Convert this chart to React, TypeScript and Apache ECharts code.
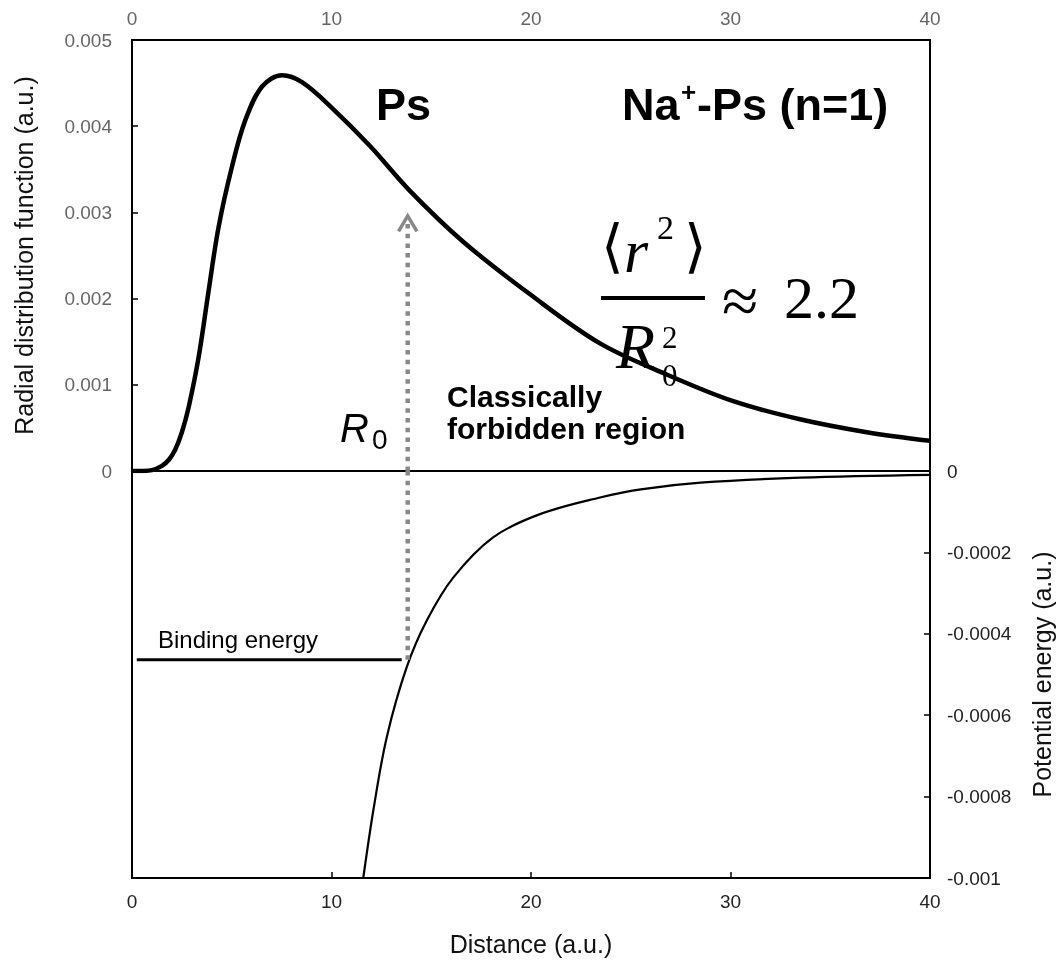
import { useEffect, useRef } from "react";
import * as echarts from "echarts";

// Radial distribution function (top panel)
const distance = [0, 0.5, 1.0, 1.5, 1.85, 2.17, 2.5, 2.84, 3.34, 3.84, 4.34, 5.01, 5.68, 6.52, 7.52, 8.52, 10.03, 11.93, 13.93, 16.6, 19.95, 23.46, 26.8, 30.14, 33.48, 36.83, 40];
const rdf = [0, 0.000001, 0.00001, 0.00006, 0.00013, 0.00025, 0.00045, 0.00074, 0.00132, 0.00209, 0.00283, 0.00353, 0.00407, 0.00446, 0.00459, 0.00451, 0.00421, 0.00377, 0.00325, 0.00266, 0.00205, 0.00148, 0.00112, 0.00081, 0.0006, 0.00045, 0.00035];

// Potential energy (bottom panel)
const potDistance = [11.4, 11.6, 12.1, 12.77, 13.77, 14.77, 16.1, 18.1, 20.45, 23.46, 25.5, 28.5, 33.5, 40];
const potential = [-0.00107, -0.000997, -0.000833, -0.000654, -0.000482, -0.000368, -0.000262, -0.000163, -0.000106, -0.000065, -0.000045, -0.0000286, -0.0000163, -0.0000095];

// Binding energy level and classical turning point
const bindingEnergy = -0.000464;
const bindingStart = 0.24;
const bindingEnd = 13.52;
const r0 = 13.82;
const arrowTop = 0.00296;
const arrowHalfWidth = 0.46;
const arrowDrop = 0.00018;

const SANS = "'Liberation Sans', Arial, Helvetica, sans-serif";
const SERIF = "'Liberation Serif', 'DejaVu Serif', serif";

function txt(text: string, x: number, y: number, font: string, align = "left", fill = "#000") {
  return {
    type: "text",
    z: 100,
    style: {
      text,
      x,
      y,
      font,
      fill,
      textAlign: align,
      textVerticalAlign: "middle",
      align,
      verticalAlign: "middle",
    },
  };
}

const tick = { show: true, inside: true, length: 6, lineStyle: { color: "#000", width: 1.5 } };

export default function App() {
  const ref = useRef<HTMLDivElement>(null);
  useEffect(() => {
    const chart = echarts.init(ref.current!, null, { renderer: "svg" });
    const option = {
      animation: false,
      textStyle: { fontFamily: SANS },
      grid: [
        { left: 132, top: 40, width: 798, height: 431, show: true, borderColor: "#000", borderWidth: 2, backgroundColor: "transparent", containLabel: false, outerBoundsMode: "none" },
        { left: 132, top: 471, width: 798, height: 407, show: true, borderColor: "#000", borderWidth: 2, backgroundColor: "transparent", containLabel: false, outerBoundsMode: "none" },
      ],
      xAxis: [
        {
          type: "value", gridIndex: 0, position: "top", min: 0, max: 40, interval: 10,
          axisLine: { show: false, onZero: false }, axisTick: { show: false }, splitLine: { show: false },
          axisLabel: { color: "#666", fontSize: 19, margin: 12, fontFamily: SANS },
        },
        {
          type: "value", gridIndex: 1, position: "bottom", min: 0, max: 40, interval: 10,
          axisLine: { show: false, onZero: false }, splitLine: { show: false },
          axisTick: tick,
          axisLabel: { color: "#222", fontSize: 19, margin: 14, fontFamily: SANS },
          name: "Distance (a.u.)", nameLocation: "middle", nameGap: 53, nameMoveOverlap: false,
          nameTextStyle: { color: "#111", fontSize: 25, fontFamily: SANS },
        },
      ],
      yAxis: [
        {
          type: "value", gridIndex: 0, position: "left", min: 0, max: 0.005, interval: 0.001,
          axisLine: { show: false, onZero: false }, splitLine: { show: false },
          axisTick: tick,
          axisLabel: { color: "#666", fontSize: 19, margin: 20, fontFamily: SANS },
          name: "Radial distribution function (a.u.)", nameLocation: "middle", nameGap: 96, nameRotate: 90, nameMoveOverlap: false,
          nameTextStyle: { color: "#111", fontSize: 25, fontFamily: SANS },
        },
        {
          type: "value", gridIndex: 1, position: "right", min: -0.001, max: 0, interval: 0.0002,
          axisLine: { show: false, onZero: false }, splitLine: { show: false },
          axisTick: tick,
          axisLabel: { color: "#222", fontSize: 19, margin: 17, fontFamily: SANS },
          name: "Potential energy (a.u.)", nameLocation: "middle", nameGap: 99, nameRotate: 90, nameMoveOverlap: false,
          nameTextStyle: { color: "#111", fontSize: 25, fontFamily: SANS },
        },
      ],
      series: [
        {
          type: "line", xAxisIndex: 0, yAxisIndex: 0, showSymbol: false, silent: true,
          smooth: 0.35,
          data: distance.map((d, i) => [d, rdf[i]]),
          lineStyle: { color: "#000", width: 4.5 },
        },
        {
          type: "line", xAxisIndex: 1, yAxisIndex: 1, showSymbol: false, silent: true,
          smooth: 0.35, clip: true,
          data: potDistance.map((d, i) => [d, potential[i]]),
          lineStyle: { color: "#000", width: 2.2 },
        },
        {
          type: "line", xAxisIndex: 1, yAxisIndex: 1, showSymbol: false, silent: true,
          data: [[bindingStart, bindingEnergy], [bindingEnd, bindingEnergy]],
          lineStyle: { color: "#000", width: 3 },
        },
        {
          type: "line", xAxisIndex: 1, yAxisIndex: 1, showSymbol: false, silent: true,
          data: [[r0, bindingEnergy], [r0, 0]],
          lineStyle: { color: "#888", width: 4.5, type: [4.5, 5.2], cap: "butt" },
        },
        {
          type: "line", xAxisIndex: 0, yAxisIndex: 0, showSymbol: false, silent: true,
          data: [[r0, 0], [r0, arrowTop - 0.00003]],
          lineStyle: { color: "#888", width: 4.5, type: [4.5, 5.2], cap: "butt" },
        },
        {
          type: "line", xAxisIndex: 0, yAxisIndex: 0, showSymbol: false, silent: true,
          data: [[r0 - arrowHalfWidth, arrowTop - arrowDrop], [r0, arrowTop], [r0 + arrowHalfWidth, arrowTop - arrowDrop]],
          lineStyle: { color: "#888", width: 3.5, join: "miter" },
        },
      ],
      graphic: [
        txt("Ps", 376, 104, `bold 45px ${SANS}`),
        txt("Na", 622, 104, `bold 45px ${SANS}`),
        txt("+", 681, 92, `bold 26px ${SANS}`),
        txt("-Ps (n=1)", 697, 104, `bold 45px ${SANS}`),
        txt("Classically", 447, 396, `bold 30px ${SANS}`),
        txt("forbidden region", 447, 428, `bold 30px ${SANS}`),
        txt("Binding energy", 158, 639, `24px ${SANS}`),
        txt("R", 340, 428, `italic 40px ${SANS}`),
        txt("0", 372, 439, `28px ${SANS}`),
        // formula <r^2>/R0^2 ≈ 2.2
        txt("\u27E8", 601, 246, `58px ${SERIF}`),
        txt("r", 624, 251, `italic 62px ${SERIF}`),
        txt("2", 657, 227, `34px ${SERIF}`),
        txt("\u27E9", 684, 246, `58px ${SERIF}`),
        {
          type: "line", z: 100,
          shape: { x1: 601, y1: 298, x2: 705, y2: 298 },
          style: { stroke: "#000", lineWidth: 4 },
        },
        txt("R", 616, 346, `italic 64px ${SERIF}`),
        txt("2", 662, 337, `31px ${SERIF}`),
        txt("0", 662, 375, `31px ${SERIF}`),
        txt("\u2248", 722, 300, `66px ${SERIF}`),
        txt("2.2", 784, 298, `60px ${SERIF}`),
      ],
    };
    chart.setOption(option as any);
    return () => chart.dispose();
  }, []);
  return <div ref={ref} style={{ position: "fixed", left: 0, top: 0, width: 1056, height: 963 }} />;
}
